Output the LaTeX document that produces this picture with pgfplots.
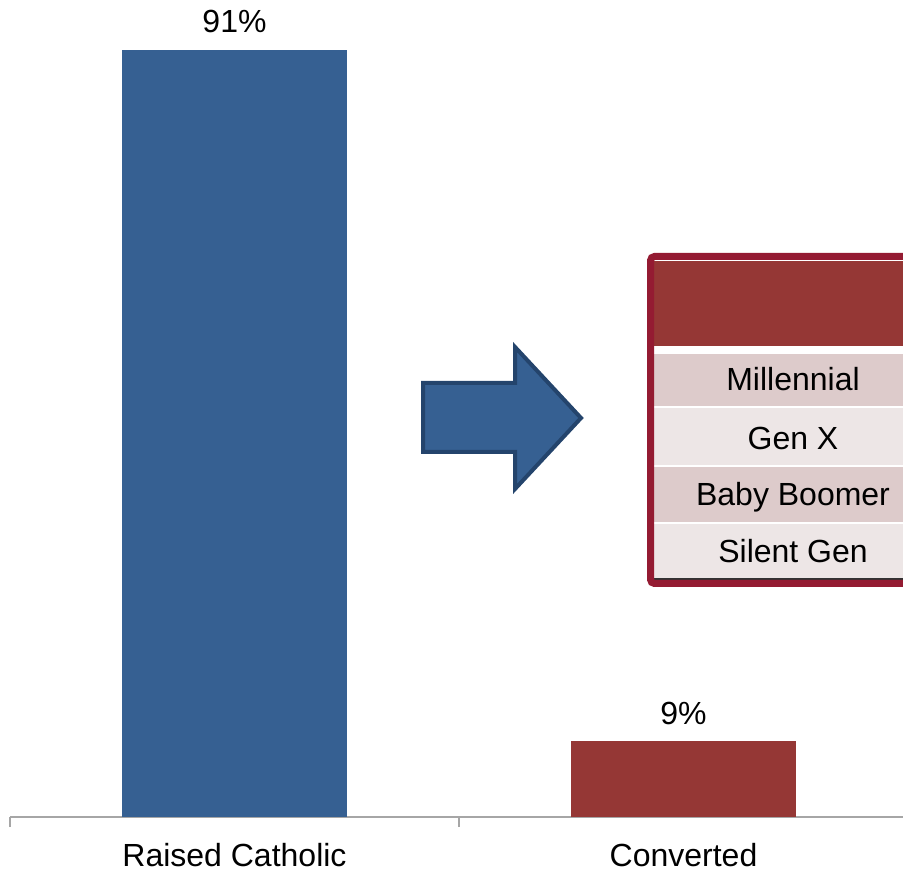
\documentclass[border=0pt]{standalone}
\usepackage{fontspec}
\setmainfont{Liberation Sans}
\usepackage{pgfplots}
\pgfplotsset{compat=1.18}
\definecolor{barblue}{HTML}{366092}
\definecolor{barred}{HTML}{953735}
\definecolor{arrowedge}{HTML}{24446C}
\definecolor{tabborder}{HTML}{941B32}
\definecolor{rowA}{HTML}{DDCBCB}
\definecolor{rowB}{HTML}{EDE6E6}
\definecolor{axisgray}{HTML}{A6A6A6}
\begin{document}
\fontsize{16pt}{19pt}\selectfont
\begin{tikzpicture}
\begin{axis}[
  at={(0,0)}, anchor=south west,
  scale only axis, width=449pt, height=408.5pt,
  xmin=-0.5, xmax=1.5, ymin=0, ymax=96.93,
  axis x line=bottom, axis y line=none,
  x axis line style={-, draw=axisgray, line width=1pt},
  xtick={0,1}, xticklabels={Raised Catholic, Converted},
  major tick length=0pt,
  minor xtick={-0.5,0.5,1.5},
  minor tick length=5pt,
  tick align=outside,
  x tick style={draw=axisgray, line width=0.6pt},
  xticklabel style={anchor=base, yshift=-24.5pt, font=\fontsize{16pt}{19pt}\selectfont},
  ytick=\empty,
  /pgf/number format/assume math mode=true,
  nodes near coords={\pgfmathprintnumber{\pgfplotspointmeta}\%},
  every node near coord/.append style={anchor=base, yshift=8.5pt, font=\fontsize{16pt}{19pt}\selectfont, text=black},
  clip=false,
]
\addplot[ybar, bar width=112.5pt, bar shift=0pt, fill=barblue, draw=none] coordinates {(0,91)};
\addplot[ybar, bar width=112.5pt, bar shift=0pt, fill=barred, draw=none] coordinates {(1,9)};
\end{axis}
\begin{scope}[x=0.5pt, y=-0.5pt, shift={(-5pt,408.5pt)}]
  % arrow
  \draw[fill=barblue, draw=arrowedge, line width=2pt, line join=miter]
    (423,383) -- (515,383) -- (515,347) -- (581,418) -- (515,489) -- (515,452) -- (423,452) -- cycle;
  % table
  \fill[white] (654,257) rectangle (945,583);
  \fill[barred] (654,261) rectangle (945,346);
  \fill[rowA] (654,354) rectangle (945,406);
  \fill[rowB] (654,408) rectangle (945,465);
  \fill[rowA] (654,467) rectangle (945,522);
  \fill[rowB] (654,524) rectangle (945,578);
  \draw[black!80, line width=0.8pt] (654,579) -- (945,579);
  \draw[tabborder, line width=3.5pt, rounded corners=2pt] (650.5,256.5) rectangle (945,583.5);
  \node[anchor=base, inner sep=0pt] at (793,391) {Millennial};
  \node[anchor=base, inner sep=0pt] at (793,450) {Gen X};
  \node[anchor=base, inner sep=0pt] at (793,506) {Baby Boomer};
  \node[anchor=base, inner sep=0pt] at (793,563) {Silent Gen};
  \pgfresetboundingbox
  \useasboundingbox (0,0) rectangle (903,871);
\end{scope}
\end{tikzpicture}
\end{document}
